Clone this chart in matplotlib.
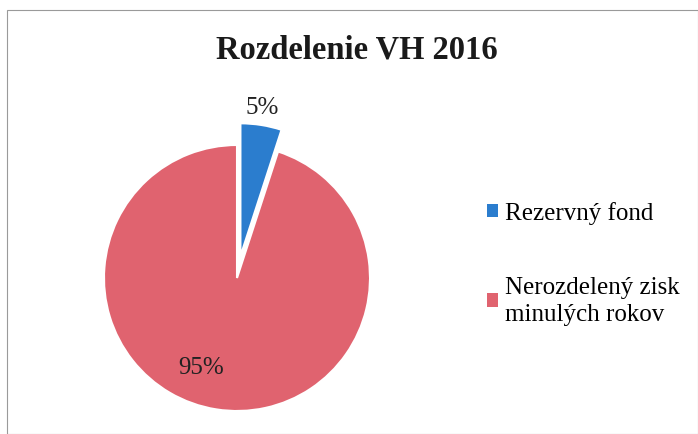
import numpy as np
import matplotlib.pyplot as plt
from matplotlib.patches import Rectangle, Patch

# Data
labels = ["Rezervný fond", "Nerozdelený zisk\nminulých rokov"]
shares = [5, 95]
colors = ["#2B7DCE", "#E0636F"]
title = "Rozdelenie VH 2016"

plt.rcParams["font.family"] = ["Liberation Serif", "DejaVu Serif"]

W, H = 698, 435
fig = plt.figure(figsize=(W / 100, H / 100), dpi=100)

# thin frame around the chart area
fig.patches.append(Rectangle((7 / W, 0), 1 - 7 / W, 1 - 11 / H, transform=fig.transFigure,
                             fill=False, edgecolor="#9a9a9a", linewidth=0.8))

# pie axes: radius 1 -> 133 px, centre at (237, 279) px from top-left
R = 133
cx, cy = 237, H - 279
xlo, ylo, span = -1.3, -1.15, 2.6
ax = fig.add_axes([(cx + xlo * R) / W, (cy + ylo * R) / H, span * R / W, span * R / H])

wedges, texts, autotexts = ax.pie(
    shares, colors=colors, startangle=90, counterclock=False,
    explode=[0.165, 0], autopct="%d%%", pctdistance=1.07,
    wedgeprops=dict(edgecolor="white", linewidth=1.5),
    textprops=dict(fontsize=18, color="#222222"))

# move the big slice's label inside
ang = np.deg2rad(-112)
autotexts[1].set_position((0.72 * np.cos(ang), 0.72 * np.sin(ang)))
autotexts[0].set_va("center")
autotexts[0].set_position((1.2 * np.sin(np.deg2rad(9)), 0.165 * np.cos(np.deg2rad(9)) + 1.12))

ax.set_xlim(xlo, xlo + span)
ax.set_ylim(ylo, ylo + span)
ax.set_aspect("equal")
ax.axis("off")

fig.text(0.511, 1 - 50 / H, title, ha="center", va="center",
         fontsize=23.5, fontweight="bold", color="#1a1a1a")

handles = [Patch(facecolor=c, edgecolor="none") for c in colors]
leg = fig.legend(handles, labels, loc="upper left", bbox_to_anchor=(464 / W, 1 - 180 / H),
                 frameon=False, fontsize=18, handlelength=0.45, handleheight=0.45,
                 handletextpad=0.3, labelspacing=2.05)
for t in leg.get_texts():
    t.set_linespacing(1.3)

fig.savefig("out.png", dpi=100, facecolor="white")
